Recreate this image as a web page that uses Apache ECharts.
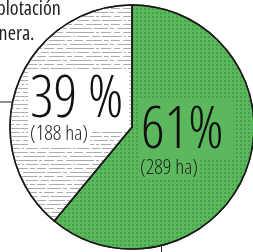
<!DOCTYPE html>
<html>
<head>
<meta charset="utf-8">
<script src="https://cdn.jsdelivr.net/npm/echarts@6/dist/echarts.min.js"></script>
<style>
  html, body { margin: 0; padding: 0; background: #fff; }
  #chart { width: 253px; height: 252px; }
</style>
</head>
<body>
<div id="chart"></div>
<script>
// shares of the area (percent) and hectares
const sliceNames = ["otros", "explotación minera"];
const percents = [61, 39];
const hectares = [289, 188];
const pctText = ["61%", "39 %"];
const titleLines = ["explotación", "minera."];

const FAMILY = '"Open Sans", "Roboto Condensed", sans-serif';
const GREEN = "#5cb85c";

const chart = echarts.init(document.getElementById("chart"));

const data = percents.map((p, i) => ({
  name: sliceNames[i],
  value: p,
  itemStyle: i === 0
    ? {
        color: GREEN,
        decal: {
          symbol: "rect",
          symbolSize: 1,
          dashArrayX: [2, 2],
          dashArrayY: [2, 2],
          color: "#44a349",
        },
      }
    : {
        color: "#ffffff",
        decal: {
          symbol: "rect",
          symbolSize: 1,
          dashArrayX: [
            [14, 2, 4, 3, 22, 2],
            [6, 3, 28, 2, 3, 2, 10, 3],
            [20, 2, 2, 2, 12, 3, 8, 2],
            [9, 3, 16, 2, 5, 2],
          ],
          dashArrayY: [1, 3],
          color: "#acacac",
        },
      },
}));

// label boxes: big percentage + hectares underneath, left aligned
const labelPos = [
  { x: 138, y: 100, dy: 58, bg: GREEN, pad: [2, 10, 0, 3] },
  { x: 28, y: 69, dy: 55, bg: "#fff", pad: [2, 6, 0, 2] },
];

const labels = [];
labelPos.forEach((pos, i) => {
  labels.push({
    type: "text",
    x: pos.x,
    y: pos.y,
    z: 100,
    style: {
      text: pctText[i],
      font: "condensed 300 58px " + FAMILY,
      fill: "#111",
      backgroundColor: pos.bg,
      padding: pos.pad,
    },
  });
  labels.push({
    type: "text",
    x: pos.x,
    y: pos.y + pos.dy,
    z: 100,
    style: {
      text: "(" + hectares[i] + " ha)",
      font: "condensed 300 21px " + FAMILY,
      fill: "#222",
      backgroundColor: pos.bg,
      padding: [0, 2, 0, 2],
    },
  });
});

const option = {
  animation: false,
  series: [
    {
      type: "pie",
      center: [132, 127],
      radius: 122,
      startAngle: 90,
      clockwise: true,
      silent: true,
      itemStyle: { borderColor: "#1a1a1a", borderWidth: 1.5 },
      label: { show: false },
      labelLine: { show: false },
      data: data,
    },
  ],
  graphic: [
    {
      type: "text",
      x: -19,
      y: -3,
      style: {
        text: titleLines.join("\n"),
        font: "condensed 20px " + FAMILY,
        lineHeight: 25,
        fill: "#222",
      },
    },
    {
      type: "line",
      shape: { x1: 0, y1: 102, x2: 13, y2: 102 },
      style: { stroke: "#222", lineWidth: 1 },
    },
    {
      type: "line",
      shape: { x1: 161.5, y1: 180, x2: 161.5, y2: 252 },
      style: { stroke: "#222", lineWidth: 1 },
    },
  ].concat(labels),
};

chart.setOption(option);
</script>
</body>
</html>
